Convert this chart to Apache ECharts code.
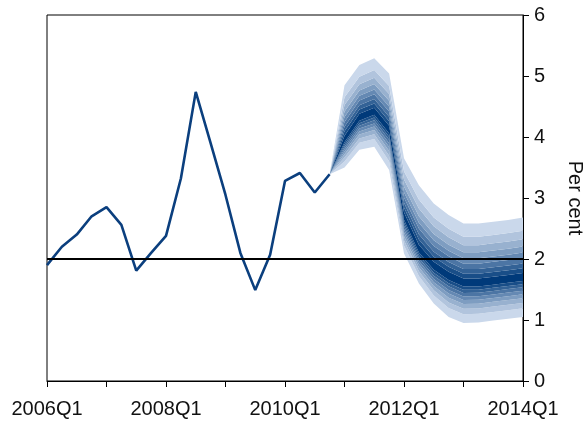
<!DOCTYPE html>
<html>
<head>
<meta charset="utf-8">
<script src="https://cdn.jsdelivr.net/npm/echarts@6/dist/echarts.min.js"></script>
<style>
  html, body { margin: 0; padding: 0; background: #fff; }
  #chart { width: 583px; height: 424px; }
</style>
</head>
<body>
<div id="chart"></div>
<script>
// quarters on the x axis
const quarters = [
  '2006Q1','2006Q2','2006Q3','2006Q4','2007Q1','2007Q2','2007Q3','2007Q4',
  '2008Q1','2008Q2','2008Q3','2008Q4','2009Q1','2009Q2','2009Q3','2009Q4',
  '2010Q1','2010Q2','2010Q3','2010Q4','2011Q1','2011Q2','2011Q3','2011Q4',
  '2012Q1','2012Q2','2012Q3','2012Q4','2013Q1','2013Q2','2013Q3','2013Q4',
  '2014Q1'
];

// outturns, 2006Q1 - 2010Q4
const history = [1.9, 2.2, 2.4, 2.7, 2.85, 2.56, 1.81, 2.1, 2.38, 3.32,
  4.74, 3.9, 3.05, 2.1, 1.49, 2.07, 3.28, 3.41, 3.09, 3.39];

// projection fan, 2010Q4 - 2014Q1
const fanStart = 19;
const centre  = [3.39, 3.95, 4.31, 4.41, 4.11, 2.69, 2.15, 1.87, 1.71, 1.60, 1.60, 1.63, 1.66, 1.69];
const upper90 = [3.39, 4.85, 5.18, 5.29, 5.04, 3.65, 3.21, 2.91, 2.72, 2.58, 2.58, 2.61, 2.64, 2.68];
const lower90 = [3.39, 3.50, 3.79, 3.84, 3.46, 2.09, 1.60, 1.27, 1.05, 0.95, 0.96, 0.99, 1.02, 1.05];
// where each band edge sits between the centre and the outer edge
const bandShares = [0.08, 0.16, 0.24, 0.33, 0.42, 0.52, 0.64, 0.78, 1.0];

const yTicks = [0, 1, 2, 3, 4, 5, 6];
const target = 2;

const font = 'Liberation Sans, Arial, Helvetica, sans-serif';
const dark = [0, 58, 122];
const light = [202, 216, 235];
const shade = (level) => {
  const t = level / (bandShares.length - 1);
  const c = dark.map((d, i) => Math.round(d + (light[i] - d) * t));
  return `rgb(${c[0]},${c[1]},${c[2]})`;
};

// edges from outer lower to outer upper
const edges = [];
for (let i = bandShares.length - 1; i >= 0; i--) {
  edges.push(centre.map((c, k) => c - bandShares[i] * (c - lower90[k])));
}
for (let i = 0; i < bandShares.length; i++) {
  edges.push(centre.map((c, k) => c + bandShares[i] * (upper90[k] - c)));
}

const pad = (arr) => quarters.map((q, k) => (k >= fanStart && k - fanStart < arr.length) ? arr[k - fanStart] : '-');

const series = [{
  type: 'line',
  stack: 'fan',
  data: pad(edges[0]),
  symbol: 'none',
  lineStyle: { width: 0, opacity: 0 },
  z: 1,
  silent: true
}];
const nLower = bandShares.length - 1;
for (let j = 0; j < edges.length - 1; j++) {
  const level = j < nLower ? nLower - j : j - nLower;
  const diff = edges[j + 1].map((v, k) => +(v - edges[j][k]).toFixed(4));
  series.push({
    type: 'line',
    stack: 'fan',
    data: pad(diff),
    symbol: 'none',
    lineStyle: { width: 0, opacity: 0 },
    areaStyle: { color: shade(level), opacity: 1 },
    z: 1,
    silent: true
  });
}
series.push({
  type: 'line',
  data: quarters.map((q, k) => k < history.length ? history[k] : '-'),
  symbol: 'none',
  lineStyle: { color: '#0b3f7e', width: 2.6 },
  z: 3,
  markLine: {
    silent: true,
    symbol: 'none',
    label: { show: false },
    lineStyle: { color: '#000', width: 2, type: 'solid' },
    data: [{ yAxis: target }]
  }
});

const chart = echarts.init(document.getElementById('chart'));
chart.setOption({
  animation: false,
  grid: {
    left: 47, right: 60, top: 15, bottom: 43,
    outerBoundsMode: 'none',
    containLabel: false,
    show: true, borderColor: '#000', borderWidth: 1
  },
  xAxis: {
    type: 'category',
    boundaryGap: false,
    data: quarters,
    axisLine: { lineStyle: { color: '#000', width: 1 } },
    axisTick: { interval: 3, length: 6, lineStyle: { color: '#000' } },
    axisLabel: { interval: 7, fontSize: 20, color: '#111', margin: 18, fontFamily: font },
    splitLine: { show: false }
  },
  yAxis: {
    type: 'value',
    position: 'right',
    min: yTicks[0],
    max: yTicks[yTicks.length - 1],
    interval: 1,
    axisLine: { show: true, lineStyle: { color: '#000', width: 1 } },
    axisTick: { show: true, length: 6, lineStyle: { color: '#000' } },
    axisLabel: { fontSize: 20, color: '#111', margin: 11, fontFamily: font },
    splitLine: { show: false },
    name: 'Per cent',
    nameLocation: 'middle',
    nameRotate: -90,
    nameGap: 42,
    nameTextStyle: { fontSize: 20, color: '#111', fontFamily: font }
  },
  series: series
});
</script>
</body>
</html>
